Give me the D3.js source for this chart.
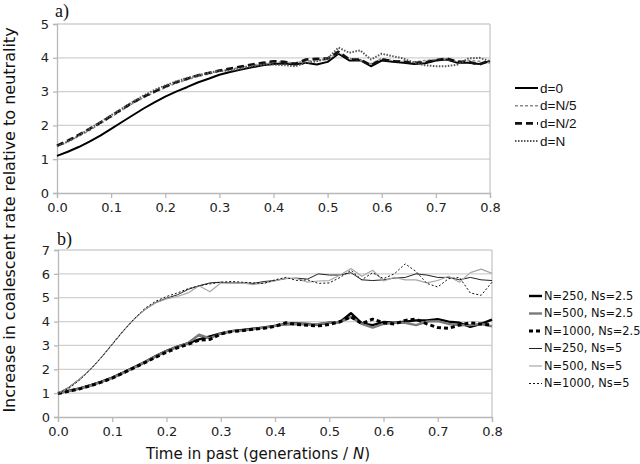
<!DOCTYPE html>
<html><head><meta charset="utf-8">
<script src="https://cdn.jsdelivr.net/npm/d3@7"></script>
<style>body{margin:0;background:#fff}svg{display:block}</style>
</head><body>
<svg id="c" width="640" height="464"></svg>
<script>
const times = d3.range(0, 41).map(i => +(i * 0.02).toFixed(2));
const xTicks = [0, 0.1, 0.2, 0.3, 0.4, 0.5, 0.6, 0.7, 0.8];
const yTicksA = [0, 1, 2, 3, 4, 5];
const yTicksB = [0, 1, 2, 3, 4, 5, 6, 7];

// Panel a)
const d0   = [1.10,1.22,1.36,1.52,1.70,1.90,2.10,2.30,2.50,2.68,2.85,3.00,3.13,3.27,3.38,3.50,3.58,3.65,3.72,3.78,3.82,3.83,3.80,3.85,3.80,3.88,4.12,3.92,3.93,3.75,3.92,3.88,3.85,3.82,3.84,3.92,3.95,3.85,3.85,3.82,3.90];
const dN5  = [1.38,1.52,1.68,1.85,2.05,2.25,2.45,2.65,2.82,2.98,3.12,3.25,3.35,3.45,3.52,3.60,3.66,3.72,3.78,3.82,3.88,3.86,3.85,3.90,3.92,3.95,4.15,3.98,3.92,3.82,3.98,3.92,3.90,3.88,3.92,3.95,3.95,3.90,3.92,3.90,3.85];
const dN2  = [1.40,1.55,1.72,1.90,2.08,2.28,2.48,2.68,2.85,3.00,3.15,3.28,3.38,3.48,3.55,3.62,3.68,3.74,3.80,3.85,3.90,3.88,3.82,3.95,3.97,3.98,4.18,3.95,3.95,3.78,3.95,3.90,3.88,3.85,3.86,3.93,3.98,3.88,3.88,3.80,3.92];
const dN   = [1.38,1.52,1.70,1.90,2.10,2.30,2.50,2.70,2.88,3.05,3.18,3.30,3.40,3.48,3.55,3.62,3.62,3.68,3.75,3.80,3.80,3.78,3.75,3.85,3.90,3.98,4.30,4.15,4.22,3.95,4.12,4.05,3.98,3.85,3.78,3.75,3.75,3.80,3.98,4.00,3.90];

// Panel b)
const n250s25  = [1.00,1.10,1.20,1.33,1.48,1.65,1.86,2.08,2.30,2.55,2.77,2.95,3.10,3.25,3.38,3.50,3.60,3.65,3.70,3.75,3.82,3.90,3.92,3.90,3.88,3.95,3.98,4.35,3.92,3.85,3.98,3.95,4.00,4.05,4.05,4.10,4.00,3.95,3.78,3.90,4.08];
const n500s25  = [1.00,1.09,1.19,1.32,1.47,1.64,1.85,2.07,2.30,2.54,2.76,2.94,3.10,3.45,3.30,3.50,3.60,3.63,3.68,3.75,3.82,3.88,3.90,3.88,3.90,3.95,3.98,4.20,3.90,3.75,3.90,3.95,3.95,3.85,4.00,4.02,3.90,3.85,3.85,3.90,3.80];
const n1000s25 = [0.98,1.08,1.18,1.31,1.46,1.63,1.84,2.06,2.28,2.50,2.72,2.90,3.05,3.22,3.25,3.48,3.58,3.62,3.68,3.72,3.80,3.95,3.88,3.85,3.82,3.88,4.00,4.20,3.92,4.10,3.95,3.90,4.05,4.10,3.90,3.75,3.72,3.85,3.95,3.90,3.85];
const n250s5   = [1.00,1.25,1.60,2.00,2.50,3.05,3.60,4.10,4.50,4.80,4.98,5.12,5.35,5.50,5.62,5.65,5.62,5.62,5.60,5.68,5.72,5.80,5.82,5.78,6.00,5.95,5.95,6.05,5.75,5.72,5.75,5.82,5.85,6.00,5.95,5.85,5.85,5.75,5.85,5.75,5.72];
const n500s5   = [1.00,1.22,1.58,2.00,2.50,3.05,3.60,4.10,4.50,4.78,4.95,5.05,5.20,5.50,5.25,5.62,5.60,5.62,5.55,5.62,5.70,5.82,5.80,5.65,5.70,5.72,5.95,6.22,5.90,6.15,5.70,5.85,5.75,5.75,5.62,5.72,5.90,5.65,6.05,6.20,6.02];
const n1000s5  = [1.00,1.20,1.55,2.00,2.50,3.05,3.60,4.10,4.55,4.85,5.05,5.20,5.38,5.50,5.58,5.65,5.68,5.65,5.62,5.60,5.75,5.85,5.72,5.75,5.60,5.62,5.85,6.15,5.75,6.05,5.80,6.00,6.42,6.10,5.60,5.45,5.80,5.85,5.20,5.10,5.65];

const svg = d3.select('#c');
const sans = 'DejaVu Sans, Verdana, sans-serif';

function panel(cfg) {
  const x = d3.scaleLinear().domain([0, 0.8]).range([cfg.x0, cfg.x1]);
  const y = d3.scaleLinear().domain([0, cfg.ymax]).range([cfg.y1, cfg.y0]);
  const g = svg.append('g');
  g.selectAll('line.grid').data(cfg.yTicks.filter(v => v > 0)).join('line')
    .attr('x1', cfg.x0).attr('x2', cfg.x1).attr('y1', d => y(d)).attr('y2', d => y(d))
    .attr('stroke', '#d0d0d0').attr('stroke-width', 1.3);
  g.append('line').attr('x1', cfg.x1).attr('x2', cfg.x1).attr('y1', y(cfg.ymax)).attr('y2', y(0))
    .attr('stroke', '#c8c8c8').attr('stroke-width', 1.3);
  const ax = g.append('g').attr('transform', `translate(0,${y(0)})`)
    .call(d3.axisBottom(x).tickValues(xTicks).tickFormat(d3.format('.1f')).tickSize(5).tickPadding(5));
  ax.select('.domain').attr('stroke', '#b8b8b8').attr('stroke-width', 1.3);
  ax.selectAll('.tick line').attr('stroke', '#b8b8b8').attr('stroke-width', 1.3);
  ax.selectAll('text').attr('font-family', sans).attr('font-size', 13).attr('fill', '#222');
  const ay = g.append('g').attr('transform', `translate(${cfg.x0},0)`)
    .call(d3.axisLeft(y).tickValues(cfg.yTicks).tickFormat(d3.format('d')).tickSize(4).tickPadding(4));
  ay.select('.domain').attr('stroke', '#b8b8b8').attr('stroke-width', 1.3);
  ay.selectAll('.tick line').attr('stroke', '#b8b8b8').attr('stroke-width', 1.3);
  ay.selectAll('text').attr('font-family', sans).attr('font-size', 13).attr('fill', '#222');
  const line = d3.line().x((d, i) => x(times[i])).y(d => y(d));
  cfg.series.forEach(s => {
    g.append('path').datum(s.values).attr('d', line).attr('fill', 'none')
      .attr('stroke', s.color).attr('stroke-width', s.width)
      .attr('stroke-dasharray', s.dash || null).attr('stroke-linejoin', 'round');
  });
  svg.append('text').attr('x', cfg.labelX).attr('y', cfg.labelY).text(cfg.label)
    .attr('font-family', 'Liberation Serif, Times New Roman, serif').attr('font-size', 18).attr('fill', '#111');
  const lg = svg.append('g');
  cfg.series.forEach((s, i) => {
    const yy = cfg.legY + i * cfg.legStep;
    lg.append('line').attr('x1', cfg.legX).attr('x2', cfg.legX + cfg.legLen).attr('y1', yy).attr('y2', yy)
      .attr('stroke', s.color).attr('stroke-width', s.width).attr('stroke-dasharray', s.dash || null);
    lg.append('text').attr('x', cfg.legX + cfg.legLen + 2).attr('y', yy).attr('dy', '0.35em').text(s.name)
      .attr('font-family', cfg.legFont).attr('font-size', cfg.legSize).attr('fill', '#111');
  });
}

panel({
  x0: 57, x1: 490, y0: 24, y1: 193, ymax: 5, yTicks: yTicksA,
  label: 'a)', labelX: 55, labelY: 17,
  legX: 515, legLen: 23, legY: 88, legStep: 17.7, legFont: 'Liberation Sans, Arial, sans-serif', legSize: 13.5,
  series: [
    {name: 'd=0',   values: d0,  color: '#000',    width: 2,   dash: null},
    {name: 'd=N/5', values: dN5, color: '#8a8a8a', width: 1.6, dash: '3,2'},
    {name: 'd=N/2', values: dN2, color: '#111',    width: 2.6, dash: '7,4'},
    {name: 'd=N',   values: dN,  color: '#555',    width: 2,   dash: '1.5,1.5'}
  ]
});

panel({
  x0: 58, x1: 492, y0: 250, y1: 417, ymax: 7, yTicks: yTicksB,
  label: 'b)', labelX: 57, labelY: 245,
  legX: 529, legLen: 13, legY: 296, legStep: 17.5, legFont: sans, legSize: 11.4,
  series: [
    {name: 'N=250, Ns=2.5',  values: n250s25,  color: '#000',    width: 2.4, dash: null},
    {name: 'N=500, Ns=2.5',  values: n500s25,  color: '#7a7a7a', width: 2.4, dash: null},
    {name: 'N=1000, Ns=2.5', values: n1000s25, color: '#000',    width: 3,   dash: '4,3'},
    {name: 'N=250, Ns=5',    values: n250s5,   color: '#222',    width: 1,   dash: null},
    {name: 'N=500, Ns=5',    values: n500s5,   color: '#a8a8a8', width: 1.2, dash: null},
    {name: 'N=1000, Ns=5',   values: n1000s5,  color: '#111',    width: 1,   dash: '2,2'}
  ]
});

svg.append('text').attr('x', 258).attr('y', 459).attr('text-anchor', 'middle')
  .attr('font-family', sans).attr('font-size', 15).attr('fill', '#111')
  .html('Time in past (generations / <tspan font-style="italic">N</tspan>)');
svg.append('text').attr('transform', 'translate(15,220) rotate(-90)').attr('text-anchor', 'middle')
  .attr('font-family', sans).attr('font-size', 16).attr('fill', '#111')
  .text('Increase in coalescent rate relative to neutrality');
</script>
</body></html>
